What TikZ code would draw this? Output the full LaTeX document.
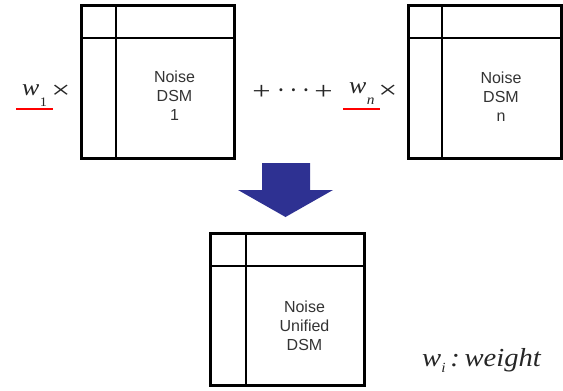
\documentclass[tikz,border=0pt]{standalone}
\usepackage{fontspec}
\setmainfont{Liberation Serif}
\newfontfamily\lsans{Liberation Sans}
\definecolor{arrowblue}{RGB}{46,49,146}
\begin{document}
\begin{tikzpicture}[x=1pt,y=-1pt,
  dsm/.style={draw=black, line width=2.7pt, minimum width=153pt, minimum height=153pt, inner sep=0pt, anchor=north west},
  divider/.style={line width=2.7pt},
  lbl/.style={font=\lsans\fontsize{16}{19}\selectfont, align=center, text=black!80, inner sep=0pt},
  wt/.style={font=\fontsize{23.5}{23.5}\selectfont\itshape, inner sep=0pt, text=black!85},
  op/.style={font=\fontsize{25}{25}\selectfont, inner sep=0pt, text=black!85},
  uline/.style={red, line width=2pt}]
\useasboundingbox (0,0) rectangle (563,391);
% boxes
\node[dsm] (b1) at (80,4) {};
\node[dsm] (bn) at (407,4) {};
\node[dsm, minimum height=152pt, minimum width=154pt] (bu) at (209,232) {};
% dividers
\draw[divider] ([xshift=36pt]b1.north west) -- ([xshift=36pt]b1.south west);
\draw[divider] ([yshift=-34pt]b1.north west) -- ([yshift=-34pt]b1.north east);
\draw[divider] ([xshift=35pt]bn.north west) -- ([xshift=35pt]bn.south west);
\draw[divider] ([yshift=-34pt]bn.north west) -- ([yshift=-34pt]bn.north east);
\draw[divider] ([xshift=37pt]bu.north west) -- ([xshift=37pt]bu.south west);
\draw[divider] ([yshift=-34pt]bu.north west) -- ([yshift=-34pt]bu.north east);
% labels
\node[lbl] (t1) at (174.5,96) {Noise\\DSM\\1};
\node[lbl] (tn) at (501,97) {Noise\\DSM\\n};
\node[lbl] (tu) at (304.5,326) {Noise\\Unified\\DSM};
% arrow
\fill[arrowblue] (262,163) -- (310,163) -- (310,190) -- (333,190) -- (285.5,217) -- (238,190) -- (262,190) -- cycle;
% weights
\node[wt, anchor=base west] (w1) at (22,95.5) {\scalebox{1.1}[1]{w}\hspace{0.5pt}\raisebox{-10.5pt}{\upshape\fontsize{13}{13}\selectfont\scalebox{1.1}[1]{1}}};
\draw[uline] ([xshift=-6pt,yshift=-13.5pt]w1.base west) -- ++(37,0);
\node[op] (x1) at (61,92) {\scalebox{1.35}[1]{×}};
\node[op] (p1) at (261.5,92) {\scalebox{1.3}[1]{+}};
\node[op, anchor=base] (dots) at (293.5,98) {·\hspace{4.2pt}·\hspace{4.2pt}·};
\node[op] (p2) at (323.5,92) {\scalebox{1.3}[1]{+}};
\node[wt, anchor=base west] (wn) at (349,93.5) {\scalebox{1.1}[1]{w}\hspace{0.5pt}\raisebox{-10.5pt}{\fontsize{14}{14}\selectfont\scalebox{1.1}[1]{n}}};
\draw[uline] ([xshift=-6pt,yshift=-15.5pt]wn.base west) -- ++(37,0);
\node[op] (xn) at (388,92) {\scalebox{1.35}[1]{×}};
\node[wt, font=\fontsize{26}{26}\selectfont\itshape, anchor=base west] (wi) at (422,366) {\scalebox{1.1}[1]{w\raisebox{-6pt}{\fontsize{14}{14}\selectfont i}\,:\,weight}};
\end{tikzpicture}
\end{document}
